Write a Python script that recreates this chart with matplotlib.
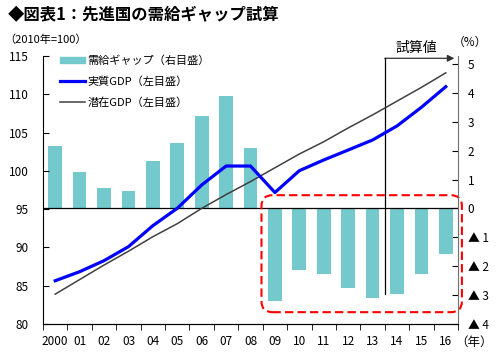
import numpy as np
import matplotlib
matplotlib.use("Agg")
import matplotlib.pyplot as plt
from matplotlib.patches import FancyBboxPatch, Patch
from matplotlib.lines import Line2D

plt.rcParams['font.family'] = ['Noto Sans CJK JP', 'DejaVu Sans']

years = ['2000', '01', '02', '03', '04', '05', '06', '07', '08',
         '09', '10', '11', '12', '13', '14', '15', '16']
# output gap (%), right axis
gap = [2.17, 1.26, 0.70, 0.60, 1.65, 2.25, 3.20, 3.91, 2.09,
       -3.20, -2.12, -2.27, -2.76, -3.09, -2.95, -2.27, -1.59]
# real GDP (2010=100), left axis
real_gdp = [85.65, 86.83, 88.27, 90.1, 92.84, 95.11, 98.15, 100.63, 100.63,
            97.17, 100.02, 101.42, 102.72, 104.03, 105.86, 108.3, 110.99]
# potential GDP (2010=100), left axis
pot_gdp = [83.9, 85.8, 87.7, 89.5, 91.4, 93.1, 95.1, 96.9, 98.6,
           100.4, 102.2, 103.8, 105.6, 107.3, 109.1, 110.9, 112.8]
right_ticks = [-4, -3, -2, -1, 0, 1, 2, 3, 4, 5]
right_labels = ['▲ 4', '▲ 3', '▲ 2', '▲ 1', '0', '1', '2', '3', '4', '5']
left_ticks = [80, 85, 90, 95, 100, 105, 110, 115]

x = np.arange(len(years))
bar_col = '#74C9CC'

fig = plt.figure(figsize=(5, 3.55), dpi=100)
ax = fig.add_axes([0.086, 0.0873, 0.83, 0.755])   # bars, right scale
ax2 = ax.twinx()                                    # lines, left scale

ax.bar(x, gap, width=0.56, color=bar_col, zorder=2)
ax.axhline(0, color='black', lw=0.9, zorder=3)
ax.set_ylim(-4, 5.28)
ax.set_xlim(-0.5, len(years) - 0.5)
ax.yaxis.tick_right()
ax.set_yticks(right_ticks)
ax.set_yticklabels(right_labels)
ax.tick_params(axis='y', direction='in', length=4, labelsize=8.5, pad=7)
for lab in ax.get_yticklabels():
    lab.set_horizontalalignment('left')

ax.set_xticks(x)
ax.set_xticklabels(years)
ax.set_xticks(np.arange(-0.5, len(years)), minor=True)
ax.tick_params(axis='x', which='major', length=0, labelsize=8.5, pad=8)
ax.tick_params(axis='x', which='minor', direction='out', length=4)

ax2.plot(x, pot_gdp, color='#404040', lw=1.1, zorder=4)
ax2.plot(x, real_gdp, color='#0000FF', lw=2.3, zorder=5)
ax2.set_ylim(80, 115)
ax2.yaxis.tick_left()
ax2.set_yticks(left_ticks)
ax2.tick_params(axis='y', direction='in', length=4, labelsize=8.5, pad=10)

for a in (ax, ax2):
    a.spines['top'].set_visible(False)
    a.spines['left'].set_color('black')
    a.spines['bottom'].set_color('black')
    a.spines['right'].set_color('#707070')
    a.patch.set_visible(False)
ax.spines['left'].set_visible(False)
ax.spines['right'].set_visible(False)

# forecast marker
ax.plot([13.5, 13.5], [-2.96, 5.2], color='black', lw=0.9, clip_on=False, zorder=6)
ax.annotate('', xy=(16.35, 5.2), xytext=(13.5, 5.2),
            arrowprops=dict(arrowstyle='-|>', color='#303030', lw=0.9,
                            mutation_scale=10, shrinkA=0, shrinkB=0),
            annotation_clip=False)
ax.text(14.8, 5.56, '試算値', fontsize=10, ha='center', va='center')

# red dashed rounded box
box = FancyBboxPatch((8.45, -3.59), 16.66 - 8.45, 0.46 + 3.59,
                     boxstyle='round,pad=0,rounding_size=0.45',
                     mutation_aspect=0.83, fill=False, ec='#FF0000',
                     lw=1.5, ls=(0, (4, 2)), clip_on=False, zorder=7)
ax.add_patch(box)

# legend
handles = [Patch(color=bar_col),
           Line2D([], [], color='#0000FF', lw=2.3),
           Line2D([], [], color='#404040', lw=1.1)]
labels = ['需給ギャップ（右目盛）', '実質GDP（左目盛）', '潜在GDP（左目盛）']
fig.legend(handles, labels, loc='upper left', bbox_to_anchor=(0.108, 0.861),
           frameon=False, fontsize=8, handlelength=2.3, handleheight=0.45,
           handletextpad=0.2, labelspacing=0.95, borderpad=0)

fig.text(0.016, 0.958, '◆図表1：先進国の需給ギャップ試算', fontsize=11.8,
         fontweight='bold', va='center', ha='left')
fig.text(0.008, 0.887, '（2010年=100）', fontsize=8, va='center', ha='left')
fig.text(0.94, 0.882, '（%）', fontsize=8.5, va='center', ha='center')
fig.text(0.948, 0.035, '（年）', fontsize=9, va='center', ha='center')

fig.savefig('out.png', dpi=100)
